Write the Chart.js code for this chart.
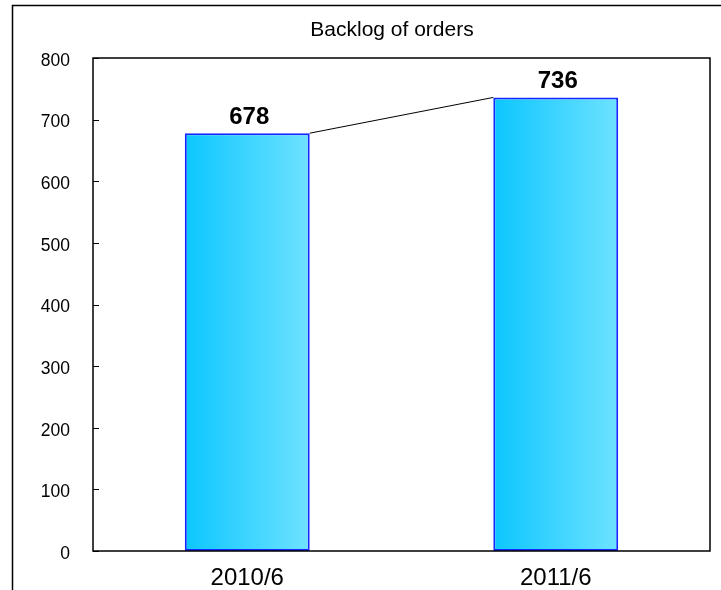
<!DOCTYPE html>
<html>
<head>
<meta charset="utf-8">
<script src="https://cdn.jsdelivr.net/npm/chart.js@4/dist/chart.umd.min.js"></script>
<style>
  html, body { margin: 0; padding: 0; background: #fff; }
  canvas { display: block; }
</style>
</head>
<body>
<canvas id="myChart" width="721" height="590"></canvas>
<script>
// chart data
const categories = ['2010/6', '2011/6'];
const backlog = [678, 736];
const chartTitle = 'Backlog of orders';
const yMin = 0;
const yMax = 800;
const yStep = 100;

const FONT = '"Liberation Sans", Arial, sans-serif';
const BAR_PCT = 0.405;

// horizontal cyan gradient for each bar
const barFill = (context) => {
  const chart = context.chart;
  const xs = chart.scales.x;
  if (!xs || !chart.chartArea) return '#33d0ff';
  const cx = xs.getPixelForValue(context.dataIndex);
  const half = (xs.width / categories.length) * BAR_PCT / 2;
  const g = chart.ctx.createLinearGradient(cx - half, 0, cx + half, 0);
  g.addColorStop(0, '#0cc6ff');
  g.addColorStop(1, '#6ee2ff');
  return g;
};

const decorations = {
  id: 'decorations',
  afterDraw(chart) {
    const ctx = chart.ctx;
    const area = chart.chartArea;
    const ys = chart.scales.y;
    ctx.save();

    // outer frame (left + top)
    ctx.strokeStyle = '#000';
    ctx.lineWidth = 1.5;
    ctx.beginPath();
    ctx.moveTo(12.5, 590);
    ctx.lineTo(12.5, 5.5);
    ctx.lineTo(721, 5.5);
    ctx.stroke();

    // title
    ctx.fillStyle = '#000';
    ctx.font = '21px ' + FONT;
    ctx.textAlign = 'center';
    ctx.textBaseline = 'alphabetic';
    ctx.fillText(chartTitle, 392, 36);

    // plot border
    ctx.lineWidth = 1.5;
    ctx.strokeRect(area.left, area.top, area.right - area.left, area.bottom - area.top);

    // inner tick marks on y axis
    ctx.lineWidth = 1;
    ys.ticks.forEach((t) => {
      const py = Math.round(ys.getPixelForValue(t.value)) + 0.5;
      ctx.beginPath();
      ctx.moveTo(area.left, py);
      ctx.lineTo(area.left + 6, py);
      ctx.stroke();
    });

    // connector line between bar tops + value labels
    const bars = chart.getDatasetMeta(0).data;
    if (bars.length > 1) {
      const a = bars[0], b = bars[1];
      ctx.lineWidth = 1;
      ctx.beginPath();
      ctx.moveTo(a.x + a.width / 2, a.y);
      ctx.lineTo(b.x - b.width / 2, b.y);
      ctx.stroke();
    }
    ctx.font = 'bold 24px ' + FONT;
    bars.forEach((bar, i) => {
      ctx.fillText(String(backlog[i]), bar.x + 2, bar.y - 9);
    });
    ctx.restore();
  }
};

new Chart(document.getElementById('myChart').getContext('2d'), {
  type: 'bar',
  data: {
    labels: categories,
    datasets: [{
      label: chartTitle,
      data: backlog,
      backgroundColor: barFill,
      borderColor: '#1428ff',
      borderWidth: 2,
      borderSkipped: false,
      categoryPercentage: 1,
      barPercentage: BAR_PCT
    }]
  },
  options: {
    responsive: false,
    animation: false,
    layout: { padding: { left: 12, right: 11, top: 58, bottom: 0 } },
    plugins: {
      legend: { display: false },
      title: { display: false },
      tooltip: { enabled: false }
    },
    scales: {
      x: {
        grid: { display: false, drawTicks: false },
        border: { display: false },
        ticks: { color: '#000', font: { family: FONT, size: 24 }, padding: 13 },
        afterFit(scale) { scale.height = 39; }
      },
      y: {
        min: yMin,
        max: yMax,
        grid: { display: false, drawTicks: false },
        border: { display: false },
        ticks: { stepSize: yStep, color: '#000', font: { family: FONT, size: 17.5 }, padding: 23, labelOffset: 3 },
        afterFit(scale) { scale.width = 81; }
      }
    }
  },
  plugins: [decorations]
});
</script>
</body>
</html>
